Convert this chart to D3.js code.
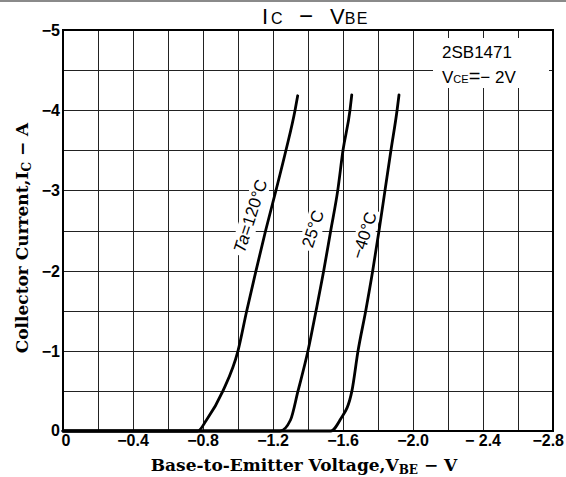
<!DOCTYPE html>
<html><head><meta charset="utf-8">
<script src="https://cdn.jsdelivr.net/npm/d3@7"></script>
<style>
html,body{margin:0;padding:0;background:#fff;}
svg{display:block;}
</style></head>
<body>
<svg id="chart" width="566" height="477"></svg>
<script>
// ---- data ----
const xTicks = [0, -0.4, -0.8, -1.2, -1.6, -2.0, -2.4, -2.8];
const xTickLabels = ["0", "\u22120.4", "\u22120.8", "\u22121.2", "\u22121.6", "\u22122.0", "\u2212 2.4", "\u22122.8"];
const yTicks = [0, -1, -2, -3, -4, -5];
const yTickLabels = ["0", "\u22121", "\u22122", "\u22123", "\u22124", "\u22125"];
const xGrid = d3.range(0, 15).map(i => -0.2 * i);
const yGrid = d3.range(0, 11).map(i => -0.5 * i);

const seriesNames = ["Ta=120\u00b0C", "25\u00b0C", "\u221240\u00b0C"];
const vbe120 = [0, -0.60, -0.77, -0.82, -0.914, -1.00, -1.05, -1.103, -1.158, -1.217, -1.274, -1.326, -1.341];
const ic120  = [0, 0, 0, -0.137, -0.5, -1.0, -1.5, -2.0, -2.5, -3.0, -3.5, -4.0, -4.18];
const vbe25  = [0, -1.10, -1.24, -1.30, -1.343, -1.40, -1.446, -1.49, -1.53, -1.57, -1.60, -1.64, -1.65];
const ic25   = [0, 0, 0, -0.137, -0.5, -1.0, -1.5, -2.0, -2.5, -3.0, -3.5, -4.0, -4.19];
const vbeM40 = [0, -1.40, -1.53, -1.583, -1.651, -1.686, -1.73, -1.77, -1.806, -1.84, -1.874, -1.909, -1.92];
const icM40  = [0, 0, 0, -0.137, -0.5, -1.0, -1.5, -2.0, -2.5, -3.0, -3.5, -4.0, -4.19];

// ---- layout ----
const L = 63, R = 553, T = 30, B = 431;
const x = d3.scaleLinear().domain([0, -2.8]).range([L, R]);
const y = d3.scaleLinear().domain([0, -5]).range([B, T]);
const svg = d3.select("#chart");

// top grey rule
svg.append("line").attr("x1", 0).attr("x2", 566).attr("y1", 1).attr("y2", 1)
  .attr("stroke", "#8a8a8a").attr("stroke-width", 2);

// grid
const grid = svg.append("g").attr("stroke", "#222").attr("stroke-width", 1);
grid.selectAll("line.v").data(xGrid).enter().append("line")
  .attr("x1", d => Math.round(x(d)) + 0.5).attr("x2", d => Math.round(x(d)) + 0.5)
  .attr("y1", T).attr("y2", B);
grid.selectAll("line.h").data(yGrid).enter().append("line")
  .attr("y1", d => Math.round(y(d)) + 0.5).attr("y2", d => Math.round(y(d)) + 0.5)
  .attr("x1", L).attr("x2", R);

// legend box background
svg.append("rect").attr("x", 433).attr("y", 38).attr("width", 116).attr("height", 50).attr("fill", "#fff");

const sans = "'Liberation Sans', Arial, sans-serif";
const serif = "'DejaVu Serif', 'Liberation Serif', serif";
const narrow = "'Liberation Sans Narrow', 'Arial Narrow', 'Liberation Sans', sans-serif";

// legend text
svg.append("text").attr("x", 442).attr("y", 58).attr("font-family", sans).attr("font-size", 17).text("2SB1471");
const lv = svg.append("text").attr("x", 442).attr("y", 83).attr("font-family", sans).attr("font-size", 17);
lv.append("tspan").text("V");
lv.append("tspan").attr("font-size", 11).text("CE");
lv.append("tspan").attr("font-size", 20).text("=");
lv.append("tspan").text("\u2212 2V");

// curve labels with white backgrounds
const labelPos = [
  {v: -1.07, i: -2.68, rot: -72, text: seriesNames[0]},
  {v: -1.427, i: -2.52, rot: -72, text: seriesNames[1]},
  {v: -1.72, i: -2.44, rot: -72, text: seriesNames[2]}
];
labelPos.forEach(p => {
  const g = svg.append("g").attr("transform", `translate(${x(p.v)},${y(p.i)}) rotate(${p.rot})`);
  const t = g.append("text").attr("text-anchor", "middle").attr("dy", "0.35em")
    .attr("font-family", sans).attr("font-size", 17);
  if (p.text.startsWith("Ta")) {
    t.append("tspan").attr("font-style", "italic").text("Ta");
    t.append("tspan").text(p.text.slice(2));
  } else {
    t.text(p.text);
  }
  const bb = t.node().getBBox();
  g.insert("rect", "text").attr("x", bb.x - 3).attr("y", bb.y).attr("width", bb.width + 6).attr("height", bb.height)
    .attr("fill", "#fff");
});

// frame
svg.append("rect").attr("x", L).attr("y", T).attr("width", R - L).attr("height", B - T)
  .attr("fill", "none").attr("stroke", "#000").attr("stroke-width", 2);

// curves
const line = d3.line().x(d => x(d[0])).y(d => y(d[1])).curve(d3.curveMonotoneX);
[[vbe120, ic120], [vbe25, ic25], [vbeM40, icM40]].forEach(([vs, is]) => {
  const pts = vs.map((v, k) => [v, is[k]]);
  svg.append("path").attr("d", line(pts)).attr("fill", "none").attr("stroke", "#000")
    .attr("stroke-width", 2.8).attr("stroke-linejoin", "round").attr("stroke-linecap", "round");
});

// tick labels
svg.append("g").selectAll("text").data(yTicks).enter().append("text")
  .attr("x", 60).attr("y", d => y(d)).attr("dy", d => d === 0 ? "0.3em" : "0.38em")
  .attr("text-anchor", "end").attr("font-family", narrow).attr("font-weight", "bold").attr("font-size", 16)
  .text((d, k) => yTickLabels[k]);
svg.append("g").selectAll("text").data(xTicks).enter().append("text")
  .attr("x", (d, k) => k === 0 ? x(d) + 3 : (k === xTicks.length - 1 ? 564 : x(d)))
  .attr("y", 446)
  .attr("text-anchor", (d, k) => k === xTicks.length - 1 ? "end" : "middle")
  .attr("font-family", narrow).attr("font-weight", "bold").attr("font-size", 16)
  .text((d, k) => xTickLabels[k]);

// title
const tt = svg.append("text").attr("y", 24).attr("font-family", sans).attr("font-size", 22);
tt.append("tspan").attr("x", 262).text("I");
tt.append("tspan").attr("x", 271).attr("font-size", 16).attr("letter-spacing", 0.5).text("C");
tt.append("tspan").attr("x", 299).attr("font-size", 24).text("\u2212");
tt.append("tspan").attr("x", 330).text("V");
tt.append("tspan").attr("font-size", 16).attr("letter-spacing", 1.5).text("BE");

// axis titles
const xt = svg.append("text").attr("x", 304).attr("y", 471).attr("text-anchor", "middle")
  .attr("font-family", serif).attr("font-weight", "bold").attr("font-size", 17);
xt.append("tspan").text("Base-to-Emitter Voltage,V");
xt.append("tspan").attr("font-size", 12).attr("dy", 3).text("BE");
xt.append("tspan").attr("dy", -3).text(" \u2212 V");

const yt = svg.append("text").attr("transform", "translate(28,238) rotate(-90)").attr("text-anchor", "middle")
  .attr("font-family", serif).attr("font-weight", "bold").attr("font-size", 17);
yt.append("tspan").text("Collector Current,I");
yt.append("tspan").attr("font-size", 12).attr("dy", 3).text("C");
yt.append("tspan").attr("dy", -3).text(" \u2212 A");
</script>
</body></html>
